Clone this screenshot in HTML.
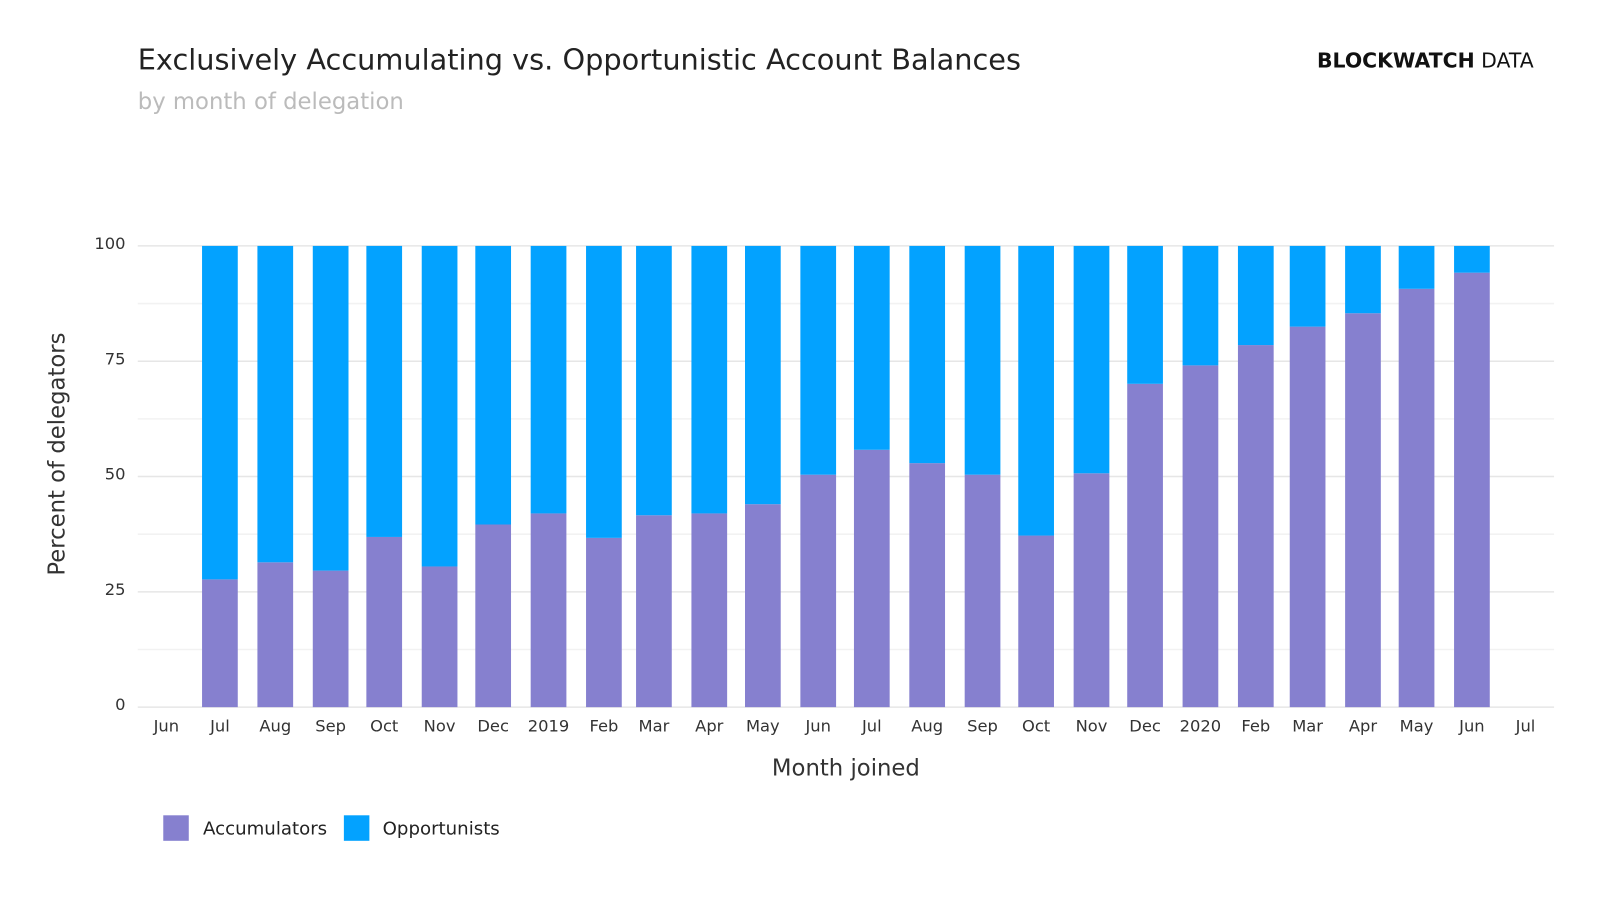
<!DOCTYPE html>
<html><head><meta charset="utf-8"><style>
body{margin:0;background:#fff;font-family:"DejaVu Sans","Liberation Sans",sans-serif;}
</style></head><body>
<svg width="1600" height="900" xmlns="http://www.w3.org/2000/svg">
<g transform="scale(1.0204)">
<text x="135" y="68" font-size="28.2" fill="#222">Exclusively Accumulating vs. Opportunistic Account Balances</text>
<text x="135" y="107" font-size="22.3" fill="#bbb">by month of delegation</text>
<text x="1503" y="66" font-size="20" text-anchor="end" fill="#111"><tspan font-weight="bold">BLOCKWATCH</tspan> DATA</text>
<g id="grid"></g><g id="bars"></g><g id="xt"></g>
<text x="63" y="445" font-size="22.3" fill="#333" text-anchor="middle" transform="rotate(-90 63 445)">Percent of delegators</text>
<text x="829" y="760" font-size="22.3" fill="#333" text-anchor="middle">Month joined</text>
<g>
<rect x="160" y="799" width="25" height="25" fill="#8680cf"/>
<text x="199" y="818" font-size="17.8" fill="#222">Accumulators</text>
<rect x="337" y="799" width="25" height="25" fill="#03a2ff"/>
<text x="375" y="818" font-size="17.8" fill="#222">Opportunists</text>
</g>
</g>
</svg>
<script>
const months=["2018-07","2018-08","2018-09","2018-10","2018-11","2018-12","2019-01","2019-02","2019-03","2019-04","2019-05","2019-06","2019-07","2019-08","2019-09","2019-10","2019-11","2019-12","2020-01","2020-02","2020-03","2020-04","2020-05","2020-06"];
const accumulators=[27.7,31.4,29.6,36.9,30.5,39.6,42,36.7,41.6,42,44,50.4,55.8,52.9,50.4,37.2,50.7,70.1,74.1,78.5,82.5,85.4,90.7,94.2];
const opportunists=accumulators.map(v=>100-v);
const tickDates=["2018-06","2018-07","2018-08","2018-09","2018-10","2018-11","2018-12","2019-01","2019-02","2019-03","2019-04","2019-05","2019-06","2019-07","2019-08","2019-09","2019-10","2019-11","2019-12","2020-01","2020-02","2020-03","2020-04","2020-05","2020-06","2020-07"];
const tickLabels=["Jun","Jul","Aug","Sep","Oct","Nov","Dec","2019","Feb","Mar","Apr","May","Jun","Jul","Aug","Sep","Oct","Nov","Dec","2020","Feb","Mar","Apr","May","Jun","Jul"];
const yTicks=[0,25,50,75,100];
const NS="http://www.w3.org/2000/svg";
const t0=Date.UTC(2018,5,1),t1=Date.UTC(2020,6,1);
function x(d){const [y,m]=d.split("-").map(Number);return 163+(Date.UTC(y,m-1,1)-t0)/(t1-t0)*1332;}
function y(v){return 693-v*4.52;}
function mk(tag,a,p){const e=document.createElementNS(NS,tag);for(const k in a)e.setAttribute(k,a[k]);p.appendChild(e);return e;}
const grid=document.getElementById("grid"),bars=document.getElementById("bars"),xt=document.getElementById("xt");
for(let v=0;v<=100;v+=12.5){const l=mk("line",{x1:135,x2:1523,y1:y(v),y2:y(v),stroke:v%25==0?"#e6e6e6":"#f2f2f2","stroke-width":1.5},grid);

}
yTicks.forEach(v=>{const t=mk("text",{x:123,y:y(v)+3,"font-size":16,fill:"#333","text-anchor":"end"},grid);t.textContent=v;

});
months.forEach((m,i)=>{const cx=x(m),w=35;
const a=mk("rect",{x:cx-w/2,y:y(accumulators[i]),width:w,height:accumulators[i]*4.52,fill:"#8680cf"},bars);


const o=mk("rect",{x:cx-w/2,y:y(100),width:w,height:opportunists[i]*4.52,fill:"#03a2ff"},bars);

});
tickDates.forEach((d,i)=>{const t=mk("text",{x:x(d),y:717,"font-size":16,fill:"#333","text-anchor":"middle"},xt);t.textContent=tickLabels[i];

});
</script>
</body></html>
